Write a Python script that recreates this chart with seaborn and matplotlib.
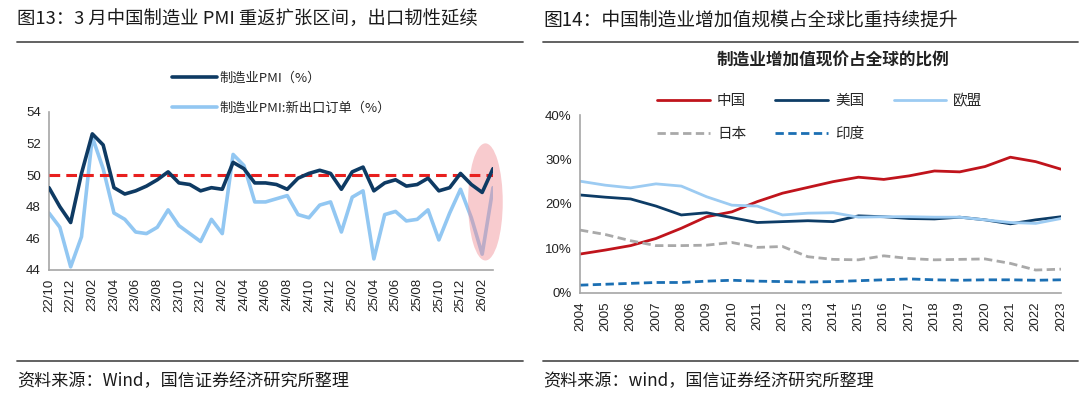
import numpy as np
import pandas as pd
import matplotlib
matplotlib.use("Agg")
import matplotlib.pyplot as plt
import seaborn as sns
from matplotlib.patches import Ellipse
from matplotlib.lines import Line2D

# ---- 左图：制造业PMI 与 新出口订单 (22/10 - 26/03) ----
pmi = [49.2, 48.0, 47.0, 50.1, 52.6, 51.9, 49.2, 48.8, 49.0, 49.3, 49.7, 50.2,
       49.5, 49.4, 49.0, 49.2, 49.1, 50.8, 50.4, 49.5, 49.5, 49.4, 49.1, 49.8,
       50.1, 50.3, 50.1, 49.1, 50.2, 50.5, 49.0, 49.5, 49.7, 49.3, 49.4, 49.8,
       49.0, 49.2, 50.1, 49.4, 48.9, 50.4]
export_orders = [47.6, 46.7, 44.2, 46.1, 52.4, 50.4, 47.6, 47.2, 46.4, 46.3, 46.7, 47.8,
                 46.8, 46.3, 45.8, 47.2, 46.3, 51.3, 50.6, 48.3, 48.3, 48.5, 48.7, 47.5,
                 47.3, 48.1, 48.3, 46.4, 48.6, 49.0, 44.7, 47.5, 47.7, 47.1, 47.2, 47.8,
                 45.9, 47.6, 49.1, 47.3, 45.0, 49.2]
months = pd.period_range("2022-10", "2026-03", freq="M").strftime("%y/%m").tolist()

# ---- 右图：制造业增加值现价占全球的比例 (%) ----
years = list(range(2004, 2024))
china = [8.7, 9.6, 10.6, 12.2, 14.5, 17.1, 18.2, 20.5, 22.4, 23.7,
         25.0, 26.0, 25.5, 26.3, 27.4, 27.2, 28.4, 30.5, 29.5, 27.8]
usa = [22.0, 21.5, 21.1, 19.5, 17.5, 18.0, 16.9, 15.8, 16.0, 16.2,
       16.0, 17.3, 17.1, 16.7, 16.6, 17.0, 16.4, 15.5, 16.4, 17.1]
eu = [25.1, 24.2, 23.6, 24.5, 24.0, 21.6, 19.7, 19.5, 17.5, 17.9,
      18.0, 17.0, 17.1, 17.1, 17.0, 17.0, 16.4, 15.8, 15.6, 16.7]
japan = [14.1, 13.1, 11.7, 10.6, 10.6, 10.7, 11.3, 10.2, 10.4, 8.1,
         7.5, 7.4, 8.3, 7.7, 7.4, 7.5, 7.6, 6.6, 5.1, 5.3]
india = [1.7, 1.9, 2.1, 2.3, 2.3, 2.6, 2.8, 2.6, 2.5, 2.4,
         2.5, 2.7, 2.9, 3.1, 2.9, 2.8, 2.9, 2.9, 2.8, 2.9]

sns.set_style("white")
plt.rcParams['font.family'] = ['Noto Sans CJK SC', 'DejaVu Sans']
TICK_FONT = ['Liberation Sans', 'Noto Sans CJK SC']
AXIS_GRAY = '#A6A6A6'

fig = plt.figure(figsize=(10.8, 3.98), dpi=100)

# 标题与分隔线
fig.text(17 / 1080, 1 - 20 / 398, "图13：3 月中国制造业 PMI 重返扩张区间，出口韧性延续",
         fontsize=13.2, va='center', ha='left', color='#1a1a1a')
fig.text(543 / 1080, 1 - 20 / 398, "图14：中国制造业增加值规模占全球比重持续提升",
         fontsize=13.5, va='center', ha='left', color='#1a1a1a')
fig.text(17 / 1080, 1 - 381 / 398, "资料来源：Wind，国信证券经济研究所整理",
         fontsize=12.3, va='center', ha='left', color='#1a1a1a')
fig.text(543 / 1080, 1 - 381 / 398, "资料来源：wind，国信证券经济研究所整理",
         fontsize=12.3, va='center', ha='left', color='#1a1a1a')
for x0, x1 in [(17, 523), (543, 1078)]:
    for yy in (42, 361):
        fig.add_artist(Line2D([x0 / 1080, x1 / 1080], [1 - yy / 398, 1 - yy / 398],
                              color='#555555', lw=1.3))

# ---- 左图 ----
ax1 = fig.add_axes([49 / 1080, 1 - 270 / 398, 444 / 1080, 158.3 / 398])
xi = np.arange(len(months))
sns.lineplot(x=xi, y=export_orders, ax=ax1, color='#92C7F2', lw=2.6,
             label='制造业PMI:新出口订单（%）', zorder=2)
ax1.add_patch(Ellipse((40.3, 48.3), 3.2, 7.4, facecolor='#F08C94', edgecolor='none',
                      alpha=0.45, zorder=3, clip_on=False))
ax1.axhline(50, color='#E8201F', lw=2.2, ls=(0, (3.5, 2)), zorder=4)
sns.lineplot(x=xi, y=pmi, ax=ax1, color='#0E3A63', lw=2.6,
             label='制造业PMI（%）', zorder=5)
ax1.set_xlim(0, len(months) - 1)
ax1.set_ylim(44, 54)
ax1.set_yticks([44, 46, 48, 50, 52, 54])
ax1.set_xticks(xi[::2])
ax1.set_xticklabels(months[::2], rotation=90)
for lab in ax1.get_xticklabels() + ax1.get_yticklabels():
    lab.set_family(TICK_FONT)
    lab.set_fontsize(9.5)
    lab.set_color('#222222')
for s in ['top', 'right']:
    ax1.spines[s].set_visible(False)
for s in ['left', 'bottom']:
    ax1.spines[s].set_color(AXIS_GRAY)
    ax1.spines[s].set_linewidth(1.2)
ax1.tick_params(axis='both', direction='out', length=4, width=1, color=AXIS_GRAY, pad=2)
h, l = ax1.get_legend_handles_labels()
ax1.legend([h[1], h[0]], [l[1], l[0]], loc='upper left', frameon=False,
           bbox_to_anchor=(160 / 1080, 1 - 60 / 398), bbox_transform=fig.transFigure,
           fontsize=9.5, handlelength=3.4, handletextpad=0.2, labelspacing=1.25)
ax1.set_xlabel('')
ax1.set_ylabel('')

# ---- 右图 ----
ax2 = fig.add_axes([580 / 1080, 1 - 292.7 / 398, 481 / 1080, 177.7 / 398])
df = pd.DataFrame({'year': years, '中国': china, '美国': usa, '欧盟': eu,
                   '日本': japan, '印度': india})
styles = {
    '中国': dict(color='#C0141C', ls='-'),
    '美国': dict(color='#0D3C66', ls='-'),
    '欧盟': dict(color='#9CCBF2', ls='-'),
    '日本': dict(color='#A9A9A9', ls=(0, (3, 1.6))),
    '印度': dict(color='#1B6FB3', ls=(0, (3, 1.6))),
}
for name, st in styles.items():
    sns.lineplot(data=df, x='year', y=name, ax=ax2, color=st['color'],
                 linestyle=st['ls'], lw=2.0, label=name)
ax2.set_xlim(2004, 2023)
ax2.set_ylim(0, 40)
ax2.set_xticks(years)
ax2.set_xticklabels([str(y) for y in years], rotation=90)
ax2.set_yticks([0, 10, 20, 30, 40])
ax2.set_yticklabels(['0%', '10%', '20%', '30%', '40%'])
for lab in ax2.get_xticklabels() + ax2.get_yticklabels():
    lab.set_family(TICK_FONT)
    lab.set_fontsize(9.5)
    lab.set_color('#222222')
for s in ['top', 'right']:
    ax2.spines[s].set_visible(False)
for s in ['left', 'bottom']:
    ax2.spines[s].set_color(AXIS_GRAY)
    ax2.spines[s].set_linewidth(1.2)
ax2.tick_params(axis='both', direction='out', length=4, width=1, color=AXIS_GRAY, pad=2)
ax2.set_xlabel('')
ax2.set_ylabel('')
h, l = ax2.get_legend_handles_labels()
order = [0, 3, 1, 4, 2]
ax2.legend([h[i] for i in order], [l[i] for i in order], ncol=3, loc='upper left',
           frameon=False, bbox_to_anchor=(644 / 1080, 1 - 81 / 398),
           bbox_transform=fig.transFigure, fontsize=10.5, handlelength=3.6,
           handletextpad=0.5, columnspacing=2.0, labelspacing=1.3)
fig.text(833 / 1080, 1 - 61 / 398, "制造业增加值现价占全球的比例", fontsize=12,
         fontweight='bold', ha='center', va='center', color='#222222')

fig.savefig("out.png", dpi=100)
